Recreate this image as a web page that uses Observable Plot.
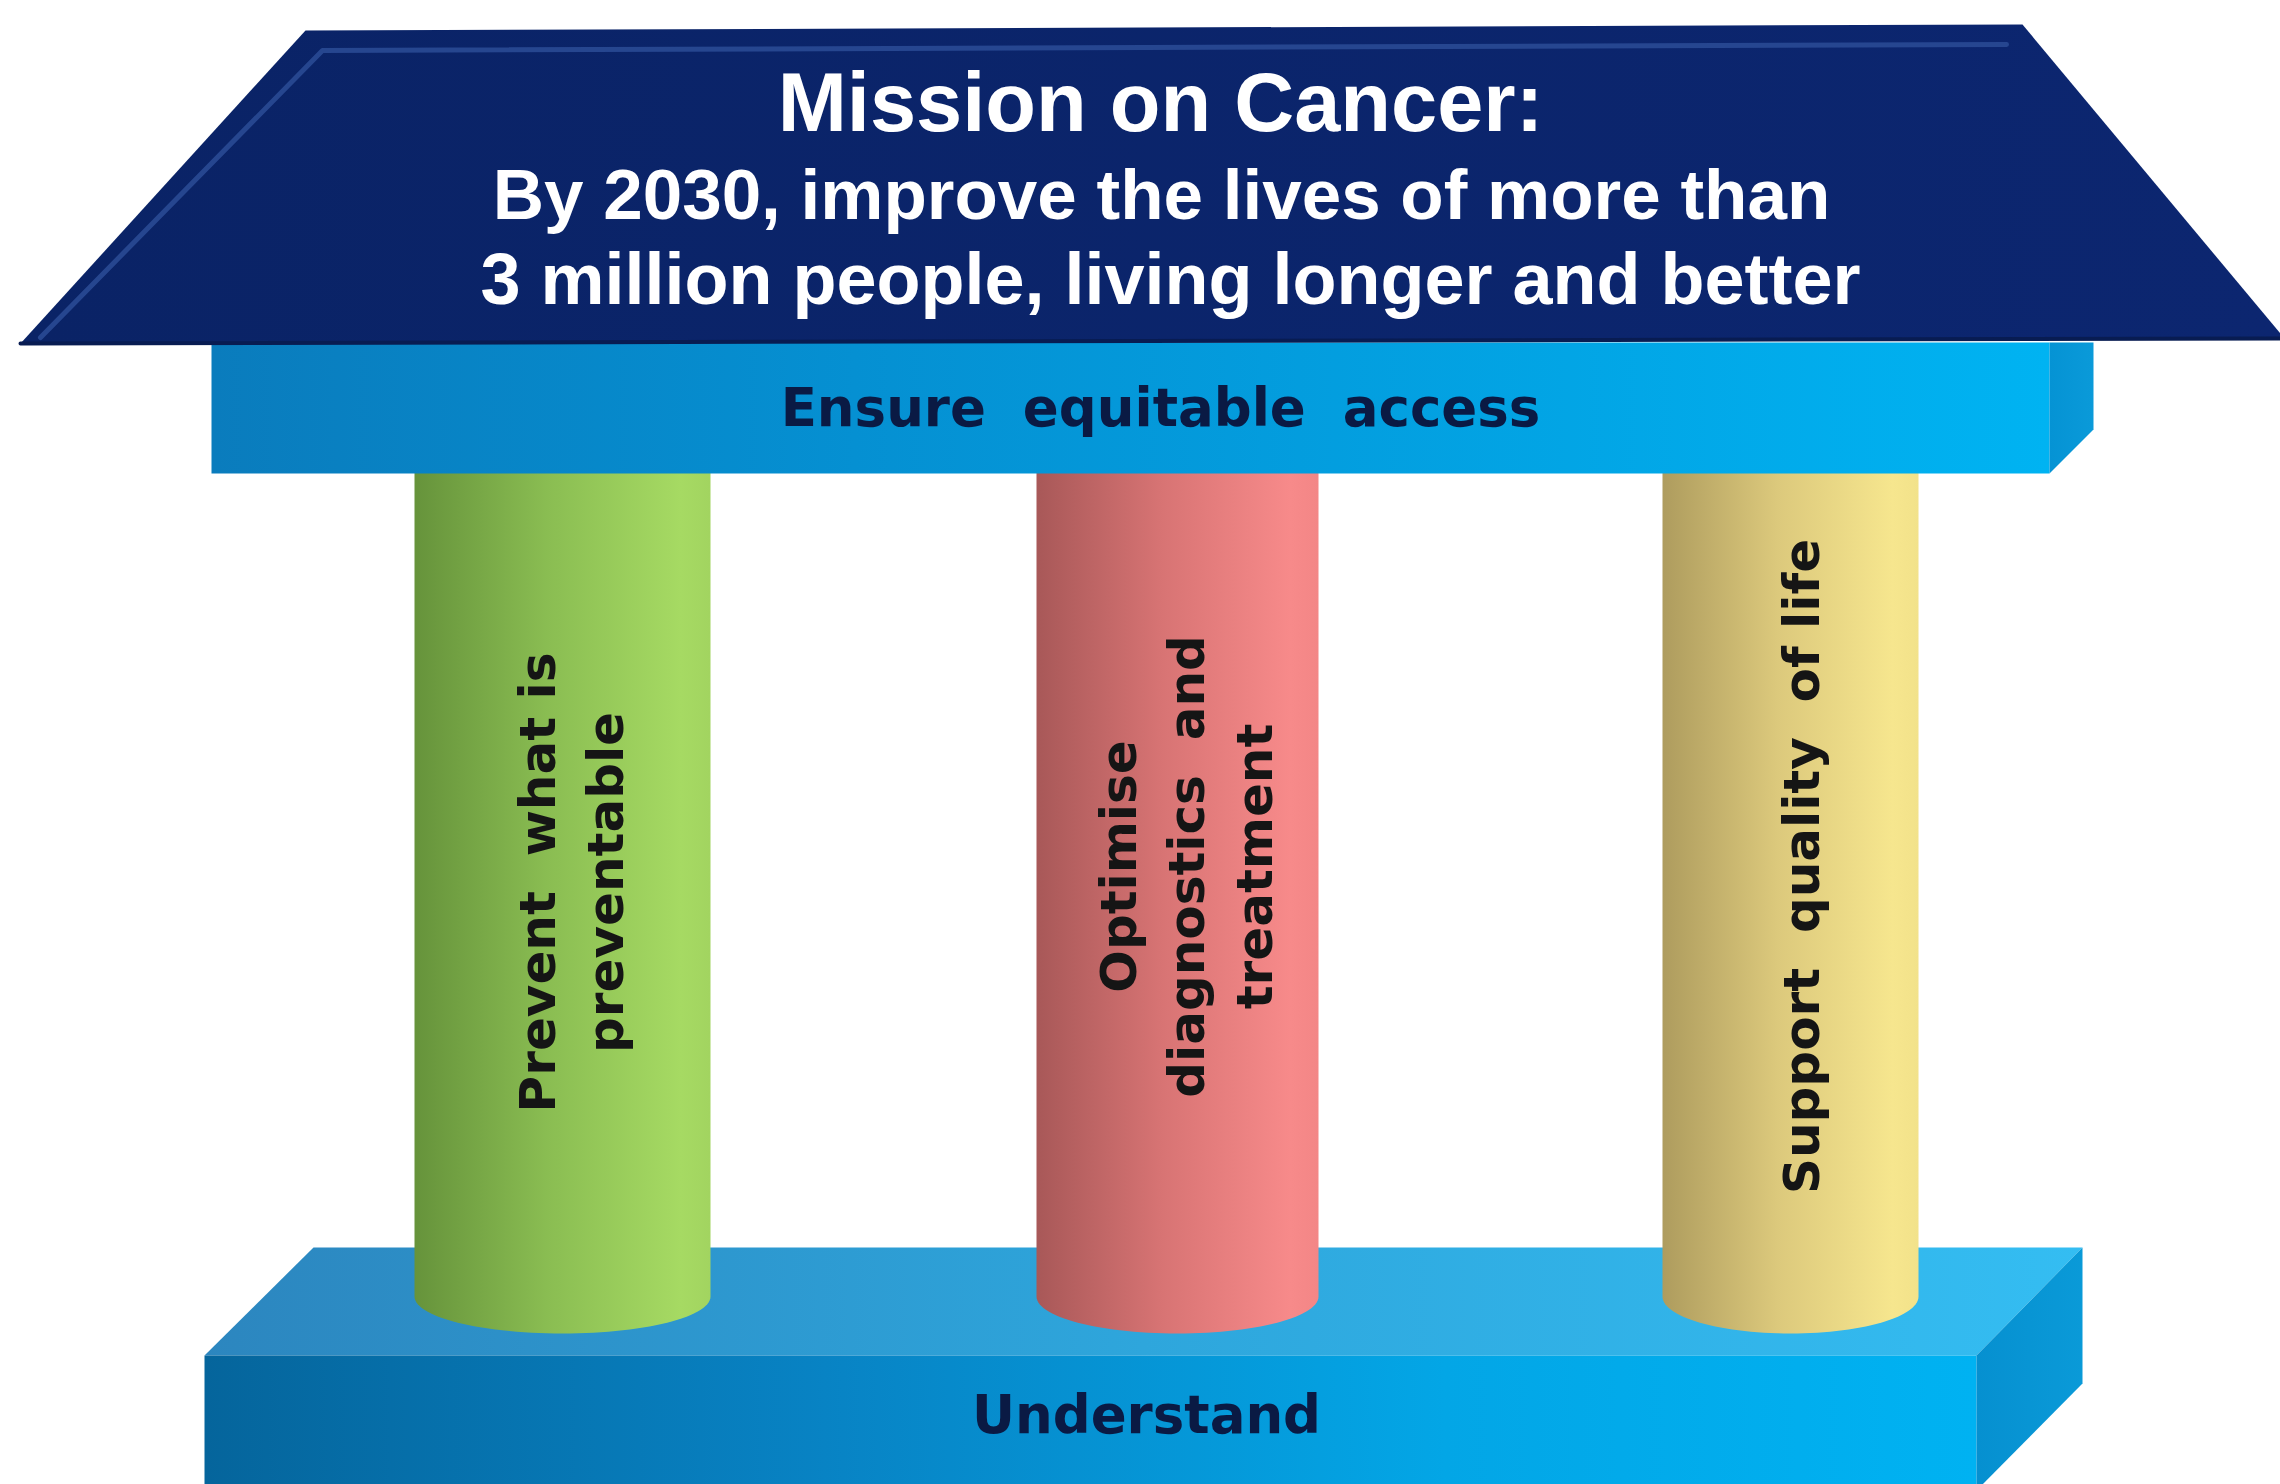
<!DOCTYPE html>
<html>
<head>
<meta charset="utf-8">
<script src="https://cdn.jsdelivr.net/npm/d3@7"></script>
<script src="https://cdn.jsdelivr.net/npm/@observablehq/plot@0.6"></script>
<style>
  html, body { margin: 0; padding: 0; background: #ffffff; }
  #chart svg { display: block; }
</style>
</head>
<body>
<div id="chart"></div>
<script>
// ---------- content ----------
const titleLines = [
  "Mission on Cancer:",
  "By 2030, improve the lives of more than",
  "3 million people, living longer and better"
];
const beamLabel = ["Ensure  equitable  access"];
const baseLabel = ["Understand"];
const pillarNames = ["Prevent what is preventable", "Optimise diagnostics and treatment", "Support quality of life"];
const pillarLines = [
  ["Prevent  what is", "preventable"],
  ["Optimise", "diagnostics  and", "treatment"],
  ["Support  quality  of life"]
];

// ---------- layout (diagram frame units = pixels of a 2280 x 1484 frame) ----------
const W = 2280, H = 1484;
const layout = {
  roof: [[305, 30], [2022, 24], [2284, 338], [20, 343]],
  roofBevel: [[40, 337], [322, 50], [2006, 44]],
  beamFront: [[211, 342], [2049, 342], [2049, 473], [211, 473]],
  beamSide: [[2049, 342], [2093, 342], [2093, 429], [2049, 473]],
  baseTop: [[313, 1247], [2082, 1247], [1976, 1355], [204, 1355]],
  baseFront: [[204, 1355], [1976, 1355], [1976, 1490], [204, 1490]],
  baseSide: [[1976, 1355], [2082, 1247], [2082, 1383], [1976, 1490]],
  pillarX: [[414, 710], [1036, 1318], [1662, 1918]],
  pillarTop: 470,
  pillarBottom: 1333,
  pillarRy: 37,
  pillarText: [[567, 882], [1182, 866], [1797, 866]],
  titleX: [1160, 1161, 1170],
  titleBaselines: [130, 218, 303],
  titleSizes: [83, 71, 72],
  beamText: [1160, 425],
  baseText: [1146, 1432]
};

const styles = {
  bevel: "#2b4c97",
  gradients: {
    gRoof: [["0%", "#0a2366"], ["100%", "#0c2670"]],
    gBeam: [["0%", "#0a7cbd"], ["35%", "#0590d2"], ["100%", "#00b3f2"]],
    gBeamSide: [["0%", "#0593d4"], ["100%", "#0a9ad9"]],
    gBaseTop: [["0%", "#2c86bf"], ["50%", "#2ea6dc"], ["100%", "#34bdf2"]],
    gBaseFront: [["0%", "#05659c"], ["35%", "#0883c4"], ["70%", "#03a6e6"], ["100%", "#00b2f2"]],
    gBaseSide: [["0%", "#0690d0"], ["100%", "#0a9ad8"]],
    gGreen: [["0%", "#66933b"], ["45%", "#8abd52"], ["90%", "#a6da63"], ["100%", "#a2d460"]],
    gRed: [["0%", "#a85858"], ["45%", "#d87474"], ["90%", "#f78a8a"], ["100%", "#f38686"]],
    gYellow: [["0%", "#ae9c5e"], ["45%", "#dcc97c"], ["90%", "#f6e68e"], ["100%", "#f2e28a"]]
  },
  pillarFills: ["url(#gGreen)", "url(#gRed)", "url(#gYellow)"],
  labelFill: "#151515",
  beamLabelFill: "#0a1a44"
};

const spaced = s => s.replace(/  /g, "\u00a0 ");

// ---------- geometry helpers ----------
function poly(points) { return points.map(([x, y]) => ({x, y})); }
function pillarOutline([x1, x2], yTop, yBottom, ry) {
  const cx = (x1 + x2) / 2, rx = (x2 - x1) / 2, cy = yBottom - ry;
  const pts = [{x: x1, y: yTop}, {x: x1, y: cy}];
  const n = 60;
  for (let i = 0; i <= n; i++) {
    const a = Math.PI - Math.PI * i / n;
    pts.push({x: cx + rx * Math.cos(a), y: cy + ry * Math.sin(a)});
  }
  pts.push({x: x2, y: yTop});
  return pts;
}
function shadowOutline([x1, x2], yBottom, ry) {
  const cx = (x1 + x2) / 2, rx = (x2 - x1) / 2 + 14, cy = yBottom - ry;
  const pts = [];
  const n = 60;
  for (let i = 0; i <= n; i++) {
    const a = 2 * Math.PI * i / n;
    pts.push({x: cx + rx * Math.cos(a), y: cy + 6 + (ry + 10) * Math.sin(a)});
  }
  return pts;
}

// ---------- defs mark (gradients + blur) ----------
function defsMark() {
  const g = d3.create("svg:g");
  const defs = g.append("defs");
  for (const [id, stops] of Object.entries(styles.gradients)) {
    const lg = defs.append("linearGradient").attr("id", id)
      .attr("x1", "0").attr("y1", "0").attr("x2", "1").attr("y2", "0");
    for (const [o, c] of stops) lg.append("stop").attr("offset", o).attr("stop-color", c);
  }
  defs.append("filter").attr("id", "soft").attr("x", "-20%").attr("y", "-50%")
    .attr("width", "140%").attr("height", "200%")
    .append("feGaussianBlur").attr("stdDeviation", 8);
  return g.node();
}

const shape = (pts, fill, extra = {}) =>
  Plot.line(pts, {x: "x", y: "y", fill, stroke: "none", curve: "linear", ...extra});

const marks = [
  defsMark,
  // base slab
  shape(poly(layout.baseTop), "url(#gBaseTop)"),
  shape(poly(layout.baseFront), "url(#gBaseFront)"),
  shape(poly(layout.baseSide), "url(#gBaseSide)"),
  // soft shadows under pillars
  ...pillarNames.map((name, i) =>
    shape(shadowOutline(layout.pillarX[i], layout.pillarBottom, layout.pillarRy), "#0a3d66",
      {fillOpacity: 0.22, filter: "url(#soft)"})),
  // pillars
  ...pillarNames.map((name, i) =>
    shape(pillarOutline(layout.pillarX[i], layout.pillarTop, layout.pillarBottom, layout.pillarRy),
      styles.pillarFills[i], {title: () => name})),
  // beam
  shape(poly(layout.beamFront), "url(#gBeam)"),
  shape(poly(layout.beamSide), "url(#gBeamSide)"),
  // roof
  shape(poly(layout.roof), "url(#gRoof)"),
  Plot.line(poly(layout.roofBevel), {x: "x", y: "y", stroke: styles.bevel, strokeWidth: 5, strokeOpacity: 0.85}),
  Plot.line(poly([layout.roof[3], layout.roof[2]]), {x: "x", y: "y", stroke: "#081c52", strokeWidth: 4}),
  // title
  Plot.text(titleLines, {
    x: (d, i) => layout.titleX[i],
    y: (d, i) => layout.titleBaselines[i],
    text: d => d,
    fontSize: (d, i) => layout.titleSizes[i],
    fill: "#ffffff",
    fontFamily: "Liberation Sans, Arial, sans-serif",
    fontWeight: "bold",
    textAnchor: "middle",
    lineAnchor: "bottom"
  }),
  // beam label
  Plot.text(beamLabel, {
    x: () => layout.beamText[0], y: () => layout.beamText[1], text: d => spaced(d),
    fontSize: 53, fontWeight: "bold", fontFamily: "DejaVu Sans, Verdana, sans-serif",
    fill: styles.beamLabelFill, textAnchor: "middle", lineAnchor: "bottom"
  }),
  // base label
  Plot.text(baseLabel, {
    x: () => layout.baseText[0], y: () => layout.baseText[1], text: d => d,
    fontSize: 53, fontWeight: "bold", fontFamily: "DejaVu Sans, Verdana, sans-serif",
    fill: styles.beamLabelFill, textAnchor: "middle", lineAnchor: "bottom"
  }),
  // pillar labels (rotated)
  Plot.text(pillarLines, {
    x: (d, i) => layout.pillarText[i][0],
    y: (d, i) => layout.pillarText[i][1],
    text: d => d.map(spaced).join("\n"),
    rotate: -90,
    fontSize: 50, fontWeight: "bold", fontFamily: "DejaVu Sans, Verdana, sans-serif",
    fill: styles.labelFill, textAnchor: "middle", lineAnchor: "middle", lineHeight: 1.36
  })
];

const chart = Plot.plot({
  width: W, height: H, margin: 0,
  x: {domain: [0, W], range: [0, W], axis: null},
  y: {domain: [0, H], range: [0, H], axis: null},
  style: {background: "#ffffff", overflow: "hidden"},
  marks
});
document.getElementById("chart").append(chart);
</script>
</body>
</html>
